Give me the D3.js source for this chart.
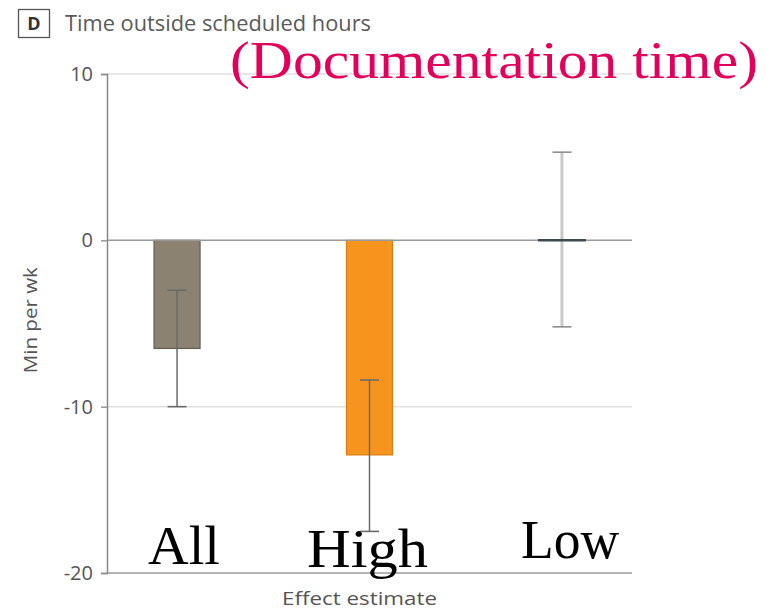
<!DOCTYPE html>
<html>
<head>
<meta charset="utf-8">
<script src="https://cdn.jsdelivr.net/npm/d3@7"></script>
<style>
  html, body { margin: 0; padding: 0; background: #fff; }
  svg { display: block; }
</style>
</head>
<body>
<svg id="chart" width="767" height="613"></svg>
<script>
// ---- data ----
const categories = ["All", "High", "Low"];
const estimates = [-6.5, -12.9, 0];
const ciLower = [-10.0, -17.5, -5.2];
const ciUpper = [-3.0, -8.4, 5.3];
const yTicks = [10, 0, -10, -20];
const panelLetter = "D";
const panelTitle = "Time outside scheduled hours";
const overlayTitle = "(Documentation time)";
const yLabel = "Min per wk";
const xLabel = "Effect estimate";

(function () {
// ---- styles ----
const fills = ["#8b8271", "#f7941e", "none"];
const strokes = ["#625c50", "#d97f12", "none"];
const sans = "'Open Sans', 'Noto Sans', sans-serif";
const serif = "'Liberation Serif', 'DejaVu Serif', serif";

const svg = d3.select("#chart");
const mLeft = 107, mRight = 632, mTop = 74, mBottom = 573;

const y = d3.scaleLinear().domain([-20, 10]).range([mBottom, mTop]);
const x = d3.scalePoint().domain(categories).range([mLeft, mRight]).padding(0.364);
const barW = 46, capW = 19;

// gridlines
svg.append("g").selectAll("line").data([10, -10]).join("line")
  .attr("x1", mLeft).attr("x2", mRight)
  .attr("y1", d => y(d)).attr("y2", d => y(d))
  .attr("stroke", "#e0e0e0").attr("stroke-width", 1.5);

// bars (from 0 to estimate)
const data = categories.map((c, i) => ({c, v: estimates[i], lo: ciLower[i], hi: ciUpper[i], i}));
svg.append("g").selectAll("rect").data(data.filter(d => d.v !== 0)).join("rect")
  .attr("x", d => x(d.c) - barW / 2)
  .attr("width", barW)
  .attr("y", d => y(Math.max(0, d.v)))
  .attr("height", d => Math.abs(y(d.v) - y(0)))
  .attr("fill", d => fills[d.i])
  .attr("stroke", d => strokes[d.i])
  .attr("stroke-width", 1.2);

// zero line
svg.append("line")
  .attr("x1", mLeft).attr("x2", mRight)
  .attr("y1", y(0)).attr("y2", y(0))
  .attr("stroke", "#999").attr("stroke-width", 1.5);

// bottom axis line
svg.append("line")
  .attr("x1", mLeft).attr("x2", mRight)
  .attr("y1", y(-20)).attr("y2", y(-20))
  .attr("stroke", "#999").attr("stroke-width", 1.5);

// error bars
const eg = svg.append("g");
data.forEach(d => {
  const light = d.v === 0;
  const wc = light ? "#c9c9c9" : "#6a6a6a";
  const cc = light ? "#8f8f8f" : "#6a6a6a";
  eg.append("line")
    .attr("x1", x(d.c)).attr("x2", x(d.c))
    .attr("y1", y(d.hi)).attr("y2", y(d.lo))
    .attr("stroke", wc).attr("stroke-width", light ? 3 : 1.5);
  [d.hi, d.lo].forEach(v => {
    eg.append("line")
      .attr("x1", x(d.c) - capW / 2).attr("x2", x(d.c) + capW / 2)
      .attr("y1", y(v)).attr("y2", y(v))
      .attr("stroke", cc).attr("stroke-width", 1.6);
  });
  if (light) {
    eg.append("line")
      .attr("x1", x(d.c) - barW / 2 - 1).attr("x2", x(d.c) + barW / 2 + 1)
      .attr("y1", y(d.v)).attr("y2", y(d.v))
      .attr("stroke", "#3c4a50").attr("stroke-width", 2.5);
  }
});

// y axis
const yAxis = d3.axisLeft(y).tickValues(yTicks).tickSize(6).tickPadding(8)
  .tickFormat(d => d3.format("d")(d).replace("\u2212", "-"));
const ga = svg.append("g").attr("transform", `translate(${mLeft},0)`).call(yAxis);
ga.select(".domain").attr("stroke", "#888").attr("stroke-width", 1.5);
ga.selectAll(".tick line").attr("stroke", "#888").attr("stroke-width", 1.3);
ga.selectAll(".tick text").attr("fill", "#555").style("font-family", sans).style("font-size", "20px");

// y label
svg.append("text")
  .attr("transform", `translate(37, ${y(-4.8)}) rotate(-90)`)
  .attr("text-anchor", "middle")
  .attr("fill", "#555")
  .style("font-family", sans).style("font-size", "19px")
  .attr("textLength", 106).attr("lengthAdjust", "spacingAndGlyphs")
  .text(yLabel);

// x label
svg.append("text")
  .attr("x", (mLeft + mRight) / 2 - 10).attr("y", 605)
  .attr("text-anchor", "middle")
  .attr("fill", "#555")
  .style("font-family", sans).style("font-size", "19px")
  .attr("textLength", 155).attr("lengthAdjust", "spacingAndGlyphs")
  .text(xLabel);

// panel box + title
svg.append("rect").attr("x", 18.5).attr("y", 9.5).attr("width", 31).attr("height", 28)
  .attr("fill", "none").attr("stroke", "#555").attr("stroke-width", 1.3);
svg.append("text").attr("x", 34).attr("y", 30).attr("text-anchor", "middle")
  .attr("fill", "#333").style("font-family", sans).style("font-size", "18px").style("font-weight", "bold")
  .text(panelLetter);
svg.append("text").attr("x", 65).attr("y", 31)
  .attr("fill", "#5a5a5a").style("font-family", sans).style("font-size", "21px")
  .attr("textLength", 306).attr("lengthAdjust", "spacingAndGlyphs")
  .text(panelTitle);

// overlay title
svg.append("text").attr("x", 230).attr("y", 78)
  .attr("fill", "#e3005a").style("font-family", serif).style("font-size", "52px")
  .attr("textLength", 528).attr("lengthAdjust", "spacingAndGlyphs")
  .text(overlayTitle);

// category labels (serif overlay)
const labelPos = [
  {t: categories[0], x: 148, y: 564, w: 72},
  {t: categories[1], x: 307, y: 567, w: 121},
  {t: categories[2], x: 521, y: 558, w: 98}
];
svg.append("g").selectAll("text").data(labelPos).join("text")
  .attr("x", d => d.x).attr("y", d => d.y)
  .attr("fill", "#000").style("font-family", serif).style("font-size", "54px")
  .attr("textLength", d => d.w).attr("lengthAdjust", "spacingAndGlyphs")
  .text(d => d.t);
})();
</script>
</body>
</html>
